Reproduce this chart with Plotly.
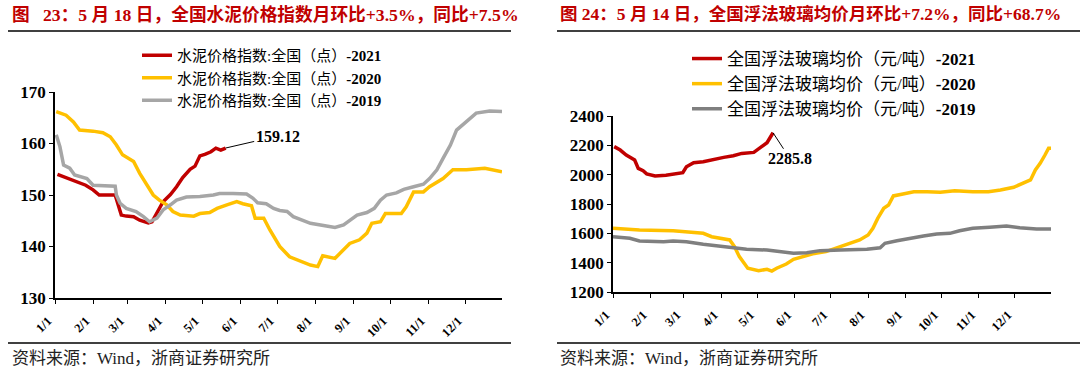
import plotly.graph_objects as go

W, H = 1080, 377

# ---- data: day-of-year (0 = Jan 1) ----
month_ticks = [0, 31, 59, 90, 120, 151, 181, 212, 243, 273, 304, 334]
month_labels = ["1/1", "2/1", "3/1", "4/1", "5/1", "6/1", "7/1", "8/1", "9/1", "10/1", "11/1", "12/1"]

# Cement price index
cem21_x = [2, 9, 17, 25, 31, 36, 49, 51, 54, 58, 64, 69, 76, 79, 83, 88, 94, 99, 104, 110, 114, 118, 122, 127, 131, 135, 139]
cem21_y = [154.0, 153.4, 152.6, 151.9, 151.0, 150.0, 150.0, 148.4, 146.1, 145.9, 145.8, 145.1, 144.6, 144.8, 146.6, 148.7,
           150.1, 151.6, 153.4, 155.0, 155.6, 157.6, 157.9, 158.4, 159.1, 158.7, 159.12]

cem20_x = [1, 9, 15, 20, 31, 39, 45, 50, 55, 64, 69, 75, 80, 85, 91, 96, 102, 113, 118, 126, 132, 140, 148, 153, 160, 163,
           170, 175, 183, 191, 202, 208, 214, 218, 228, 233, 240, 248, 254, 258, 265, 269, 282, 286, 292, 300, 305, 316,
           324, 335, 350, 364]
cem20_y = [166.2, 165.5, 164.2, 162.6, 162.4, 162.1, 161.3, 159.7, 157.8, 156.5, 154.2, 151.9, 150.0, 149.0, 148.1, 146.8,
           146.1, 145.9, 146.4, 146.6, 147.4, 148.1, 148.7, 148.3, 147.9, 145.5, 145.5, 143.2, 140.0, 138.0, 136.9, 136.4,
           136.1, 138.2, 137.7, 139.0, 140.6, 141.3, 142.6, 144.5, 144.8, 146.4, 146.4, 147.7, 150.6, 150.6, 151.6, 153.2,
           154.9, 154.9, 155.2, 154.5]

cem19_x = [1, 4, 7, 12, 16, 26, 31, 49, 50, 53, 58, 66, 72, 77, 83, 88, 94, 99, 107, 118, 129, 134, 145, 156, 161, 165,
           172, 178, 183, 189, 194, 208, 221, 228, 235, 240, 246, 254, 260, 265, 270, 278, 284, 292, 300, 305, 311, 316,
           322, 327, 335, 343, 354, 364]
cem19_y = [161.7, 159.4, 155.8, 155.2, 153.9, 153.2, 151.9, 151.7, 150.0, 148.4, 147.4, 146.8, 145.8, 144.8, 145.5, 147.1,
           148.1, 149.0, 149.6, 149.7, 150.0, 150.3, 150.3, 150.2, 149.4, 148.5, 148.3, 147.4, 147.0, 146.8, 145.8, 144.5,
           144.0, 143.7, 144.2, 145.1, 146.1, 146.6, 147.4, 149.0, 150.0, 150.4, 151.1, 151.6, 152.1, 153.2, 154.9, 157.1,
           159.7, 162.6, 164.2, 165.9, 166.3, 166.2]

# Float glass average price
gl21_x = [1, 6, 11, 18, 21, 25, 28, 35, 44, 53, 58, 61, 67, 75, 83, 92, 100, 107, 117, 122, 128, 133]
gl21_y = [2191, 2168, 2134, 2100, 2043, 2027, 2005, 1991, 1996, 2005, 2014, 2054, 2082, 2088, 2105, 2118, 2129, 2145,
          2152, 2180, 2218, 2285.8]

gl20_x = [0, 11, 22, 50, 61, 75, 82, 89, 97, 101, 105, 112, 121, 128, 132, 136, 144, 150, 158, 166, 177, 189, 197, 205,
          212, 216, 220, 225, 229, 233, 241, 250, 261, 272, 284, 299, 312, 322, 333, 338, 347, 351, 355, 359, 362, 364]
gl20_y = [1634, 1627, 1623, 1618, 1611, 1600, 1577, 1566, 1555, 1509, 1441, 1362, 1345, 1355, 1343, 1362, 1391, 1423,
          1441, 1460, 1475, 1509, 1536, 1555, 1589, 1634, 1702, 1771, 1793, 1855, 1868, 1884, 1884, 1880, 1891, 1884,
          1884, 1895, 1914, 1930, 1964, 2032, 2077, 2134, 2180, 2180]

gl19_x = [0, 14, 22, 42, 50, 61, 75, 86, 100, 111, 128, 139, 150, 161, 172, 189, 211, 222, 226, 236, 250, 258, 269, 280,
          288, 299, 313, 327, 338, 352, 364]
gl19_y = [1577, 1566, 1548, 1543, 1548, 1543, 1525, 1516, 1505, 1491, 1486, 1475, 1464, 1468, 1482, 1486, 1491, 1502,
          1532, 1550, 1573, 1582, 1595, 1600, 1618, 1634, 1641, 1650, 1638, 1630, 1630]

cem_names = ["水泥价格指数:全国（点）<b>-2021</b>", "水泥价格指数:全国（点）<b>-2020</b>", "水泥价格指数:全国（点）<b>-2019</b>"]
gl_names = ["全国浮法玻璃均价（元/吨）<b>-2021</b>", "全国浮法玻璃均价（元/吨）<b>-2020</b>", "全国浮法玻璃均价（元/吨）<b>-2019</b>"]

title_left = "图\u2002 23：5 月 18 日，全国水泥价格指数月环比+3.5%，同比+7.5%"
title_right = "图 24：5 月 14 日，全国浮法玻璃均价月环比+7.2%，同比+68.7%"
source_text = "资料来源：Wind，浙商证券研究所"

RED, YEL, GRY_L, GRY_D = "#C00000", "#FFC000", "#A6A6A6", "#7F7F7F"
MIXFONT = "Liberation Serif, Noto Sans CJK SC, serif"


def px_x(p):
    return p / W


def px_y(p):
    return 1 - p / H


fig = go.Figure()
for xs, ys, nm, col in [(cem21_x, cem21_y, cem_names[0], RED), (cem20_x, cem20_y, cem_names[1], YEL),
                        (cem19_x, cem19_y, cem_names[2], GRY_L)]:
    fig.add_trace(go.Scatter(x=xs, y=ys, name=nm, mode="lines", line=dict(color=col, width=3.5),
                             xaxis="x", yaxis="y", legend="legend"))
for xs, ys, nm, col in [(gl21_x, gl21_y, gl_names[0], RED), (gl20_x, gl20_y, gl_names[1], YEL),
                        (gl19_x, gl19_y, gl_names[2], GRY_D)]:
    fig.add_trace(go.Scatter(x=xs, y=ys, name=nm, mode="lines", line=dict(color=col, width=3.5),
                             xaxis="x2", yaxis="y2", legend="legend2"))

xcommon = dict(range=[0, 364], tickvals=month_ticks, ticktext=month_labels, tickangle=-45,
               showline=True, linecolor="black", linewidth=1.5, ticks="outside", ticklen=4, tickcolor="black",
               showgrid=False, zeroline=False, automargin=False, ticklabelshift=-7, ticklabelstandoff=5,
               tickfont=dict(family="Liberation Serif", size=12.5, color="black", weight="bold"))
ycommon = dict(showline=True, linecolor="black", linewidth=1.5, ticks="outside", ticklen=4, tickcolor="black",
               showgrid=False, zeroline=False, automargin=False,
               tickfont=dict(family="Liberation Serif", size=17, color="black", weight="bold"))

fig.update_layout(
    width=W, height=H, margin=dict(l=0, r=0, t=0, b=0, autoexpand=False),
    paper_bgcolor="white", plot_bgcolor="white",
    xaxis=dict(domain=[px_x(55), px_x(502)], anchor="y", **xcommon),
    yaxis=dict(domain=[px_y(298), px_y(92)], anchor="x", range=[130, 170], tickvals=[130, 140, 150, 160, 170],
               **ycommon),
    xaxis2=dict(domain=[px_x(613), px_x(1051)], anchor="y2", **xcommon),
    yaxis2=dict(domain=[px_y(292), px_y(116)], anchor="x2", range=[1200, 2400],
                tickvals=[1200, 1400, 1600, 1800, 2000, 2200, 2400], **ycommon),
    legend=dict(x=px_x(137), y=px_y(39), xanchor="left", yanchor="top", bgcolor="rgba(0,0,0,0)",
                font=dict(family=MIXFONT, size=15, color="black"), traceorder="normal",
                itemwidth=30),
    legend2=dict(x=px_x(687), y=px_y(41), xanchor="left", yanchor="top", bgcolor="rgba(0,0,0,0)",
                 font=dict(family=MIXFONT, size=17, color="black"), traceorder="normal",
                 itemwidth=30),
    showlegend=True,
)

annots = [
    dict(xref="paper", yref="paper", x=px_x(10), y=px_y(14), xanchor="left", yanchor="middle", showarrow=False,
         text="<b>" + title_left + "</b>", font=dict(family=MIXFONT, size=17.7, color=RED)),
    dict(xref="paper", yref="paper", x=px_x(558), y=px_y(14), xanchor="left", yanchor="middle", showarrow=False,
         text="<b>" + title_right + "</b>", font=dict(family=MIXFONT, size=17.5, color=RED)),
    dict(xref="paper", yref="paper", x=px_x(10), y=px_y(358), xanchor="left", yanchor="middle", showarrow=False,
         text=source_text, font=dict(family=MIXFONT, size=17, color="#222222")),
    dict(xref="paper", yref="paper", x=px_x(558), y=px_y(358), xanchor="left", yanchor="middle", showarrow=False,
         text=source_text, font=dict(family=MIXFONT, size=17, color="#222222")),
    dict(xref="x", yref="y", x=cem21_x[-1], y=cem21_y[-1], text="<b>%.2f</b>" % cem21_y[-1], showarrow=True,
         arrowhead=0, arrowwidth=1, arrowcolor="black", ax=52, ay=-12, standoff=0,
         font=dict(family="Liberation Serif", size=16, color="black")),
    dict(xref="x2", yref="y2", x=gl21_x[-1], y=gl21_y[-1], text="<b>%.1f</b>" % gl21_y[-1], showarrow=True,
         arrowhead=0, arrowwidth=1, arrowcolor="black", ax=17, ay=26, standoff=0,
         font=dict(family="Liberation Serif", size=16, color="black")),
]
fig.update_layout(annotations=annots)

shapes = []
for x0, x1 in [(8, 511), (557, 1080)]:
    for yy in (31, 343):
        shapes.append(dict(type="line", xref="paper", yref="paper", x0=px_x(x0), x1=px_x(x1), y0=px_y(yy),
                           y1=px_y(yy), line=dict(color="#404040", width=2)))
fig.update_layout(shapes=shapes)

fig.write_html("out.html", config={"displayModeBar": False},
               post_script="document.body.style.margin='0';")
